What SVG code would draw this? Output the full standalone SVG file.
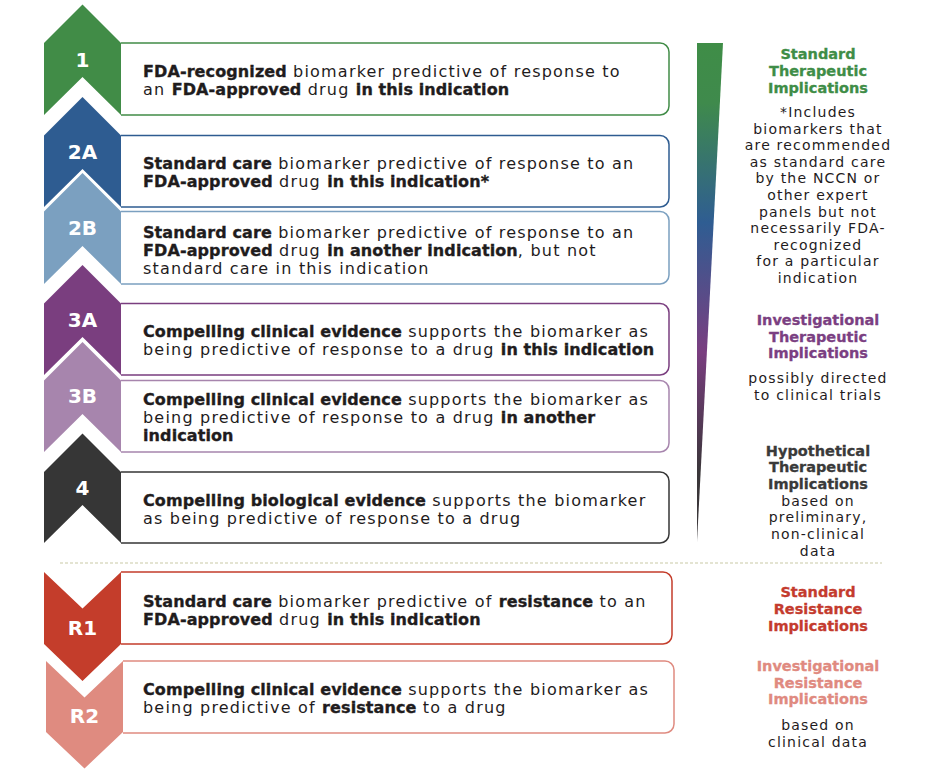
<svg xmlns="http://www.w3.org/2000/svg" width="952" height="783" viewBox="0 0 952 783">
  <defs>
    <linearGradient id="taper" x1="0" y1="43" x2="0" y2="542" gradientUnits="userSpaceOnUse">
      <stop offset="0" stop-color="#3f8d47"/>
      <stop offset="0.12" stop-color="#3f8a4c"/>
      <stop offset="0.36" stop-color="#2f5d92"/>
      <stop offset="0.62" stop-color="#7a3e80"/>
      <stop offset="0.86" stop-color="#3a3639"/>
      <stop offset="1" stop-color="#3a3639"/>
    </linearGradient>
  </defs>
  <style>
    .box { fill: #ffffff; stroke-width: 1.5; }
    .txt { font-family: "DejaVu Sans", "Liberation Sans", sans-serif; font-size: 16px; fill: #1f1c1d; }
    .r { letter-spacing: 1.2px; }
    .b { font-weight: bold; letter-spacing: 0.1px; stroke: #1f1c1d; stroke-width: 0.35px; }
    .num { font-family: "DejaVu Sans", "Liberation Sans", sans-serif; font-size: 20px; font-weight: bold; fill: #ffffff; text-anchor: middle; }
    .hd { font-family: "DejaVu Sans", "Liberation Sans", sans-serif; font-size: 14.5px; font-weight: bold; text-anchor: middle; stroke-width: 0.3px; }
    .note { font-family: "DejaVu Sans", "Liberation Sans", sans-serif; font-size: 14px; letter-spacing: 1.2px; fill: #1f1c1d; text-anchor: middle; }
    .green { fill: #3f8d47; stroke: #3f8d47; }
    .violet { fill: #7b3f82; stroke: #7b3f82; }
    .charcoal { fill: #3a3a3a; stroke: #3a3a3a; }
    .red { fill: #c43b2e; stroke: #c43b2e; }
    .salmon { fill: #e08a80; stroke: #e08a80; }
  </style>

  <rect width="952" height="783" fill="#ffffff"/>

  <!-- level 1 -->
  <g id="level-1">
    <path class="box" stroke="#418c47" d="M121,43 H660 A9,9 0 0 1 669,52 V106 A9,9 0 0 1 660,115 H121"/>
    <path fill="#418c47" d="M44,43 L82.5,4.5 L121,43 L121,115 L82.5,77 L44,115 Z"/>
    <text class="num" x="82.5" y="67">1</text>
    <text class="txt" x="143" y="77"><tspan class="b">FDA-recognized</tspan><tspan class="r"> biomarker predictive of response to</tspan></text>
    <text class="txt" x="143" y="95"><tspan class="r">an </tspan><tspan class="b">FDA-approved</tspan><tspan class="r"> drug </tspan><tspan class="b">in this indication</tspan></text>
  </g>

  <!-- level 2A -->
  <g id="level-2A">
    <path class="box" stroke="#2e5c91" d="M121,135.5 H660 A9,9 0 0 1 669,144.5 V198 A9,9 0 0 1 660,207 H121"/>
    <path fill="#2e5c91" d="M44,135.5 L82.5,97 L121,135.5 L121,207 L82.5,169 L44,207 Z"/>
    <text class="num" x="82.5" y="159">2A</text>
    <text class="txt" x="143" y="169"><tspan class="b">Standard care</tspan><tspan class="r"> biomarker predictive of response to an</tspan></text>
    <text class="txt" x="143" y="187"><tspan class="b">FDA-approved</tspan><tspan class="r"> drug </tspan><tspan class="b">in this indication*</tspan></text>
  </g>

  <!-- level 2B -->
  <g id="level-2B">
    <path class="box" stroke="#7ba0c0" d="M121,211.5 H660 A9,9 0 0 1 669,220.5 V275 A9,9 0 0 1 660,284 H121"/>
    <path fill="#7ba0c0" d="M44,211.5 L82.5,173 L121,211.5 L121,284 L82.5,246 L44,284 Z"/>
    <text class="num" x="82.5" y="235">2B</text>
    <text class="txt" x="143" y="238"><tspan class="b">Standard care</tspan><tspan class="r"> biomarker predictive of response to an</tspan></text>
    <text class="txt" x="143" y="256"><tspan class="b">FDA-approved</tspan><tspan class="r"> drug </tspan><tspan class="b">in another indication</tspan><tspan class="r">, but not</tspan></text>
    <text class="txt" x="143" y="274"><tspan class="r">standard care in this indication</tspan></text>
  </g>

  <!-- level 3A -->
  <g id="level-3A">
    <path class="box" stroke="#7a3e7f" d="M121,303.5 H660 A9,9 0 0 1 669,312.5 V366 A9,9 0 0 1 660,375 H121"/>
    <path fill="#7a3e7f" d="M44,303.5 L82.5,265 L121,303.5 L121,375 L82.5,337 L44,375 Z"/>
    <text class="num" x="82.5" y="327">3A</text>
    <text class="txt" x="143" y="337"><tspan class="b">Compelling clinical evidence</tspan><tspan class="r"> supports the biomarker as</tspan></text>
    <text class="txt" x="143" y="355"><tspan class="r">being predictive of response to a drug </tspan><tspan class="b">in this indication</tspan></text>
  </g>

  <!-- level 3B -->
  <g id="level-3B">
    <path class="box" stroke="#a785ad" d="M121,380.5 H660 A9,9 0 0 1 669,389.5 V443 A9,9 0 0 1 660,452 H121"/>
    <path fill="#a785ad" d="M44,380.5 L82.5,342 L121,380.5 L121,452 L82.5,414 L44,452 Z"/>
    <text class="num" x="82.5" y="403">3B</text>
    <text class="txt" x="143" y="405"><tspan class="b">Compelling clinical evidence</tspan><tspan class="r"> supports the biomarker as</tspan></text>
    <text class="txt" x="143" y="423"><tspan class="r">being predictive of response to a drug </tspan><tspan class="b">in another</tspan></text>
    <text class="txt" x="143" y="441"><tspan class="b">indication</tspan></text>
  </g>

  <!-- level 4 -->
  <g id="level-4">
    <path class="box" stroke="#363636" d="M121,472 H660 A9,9 0 0 1 669,481 V534 A9,9 0 0 1 660,543 H121"/>
    <path fill="#363636" d="M44,472 L82.5,433.5 L121,472 L121,543 L82.5,505 L44,543 Z"/>
    <text class="num" x="82.5" y="495">4</text>
    <text class="txt" x="143" y="506"><tspan class="b">Compelling biological evidence</tspan><tspan class="r"> supports the biomarker</tspan></text>
    <text class="txt" x="143" y="524"><tspan class="r">as being predictive of response to a drug</tspan></text>
  </g>

  <!-- separator between therapeutic and resistance levels -->
  <line x1="60" y1="563" x2="882" y2="563" stroke="#c9c9a6" stroke-width="1.2" stroke-dasharray="3 2"/>

  <!-- level R1 -->
  <g id="level-R1">
    <path class="box" stroke="#c43d2b" d="M121,572 H663 A9,9 0 0 1 672,581 V635 A9,9 0 0 1 663,644 H121"/>
    <path fill="#c43d2b" d="M44,572 L82.5,608.5 L121,572 L121,644 L82.5,681 L44,644 Z"/>
    <text class="num" x="82.5" y="635">R1</text>
    <text class="txt" x="143" y="607"><tspan class="b">Standard care</tspan><tspan class="r"> biomarker predictive of </tspan><tspan class="b">resistance</tspan><tspan class="r"> to an</tspan></text>
    <text class="txt" x="143" y="625"><tspan class="b">FDA-approved</tspan><tspan class="r"> drug </tspan><tspan class="b">in this indication</tspan></text>
  </g>

  <!-- level R2 -->
  <g id="level-R2">
    <path class="box" stroke="#df8b80" d="M123,661 H665 A9,9 0 0 1 674,670 V724 A9,9 0 0 1 665,733 H123"/>
    <path fill="#df8b80" d="M46,661 L84.5,697.5 L123,661 L123,732 L84.5,768.5 L46,732 Z"/>
    <text class="num" x="84.5" y="723">R2</text>
    <text class="txt" x="143" y="695"><tspan class="b">Compelling clinical evidence</tspan><tspan class="r"> supports the biomarker as</tspan></text>
    <text class="txt" x="143" y="713"><tspan class="r">being predictive of </tspan><tspan class="b">resistance</tspan><tspan class="r"> to a drug</tspan></text>
  </g>

  <!-- tapering evidence bar -->
  <path id="evidence-bar" fill="url(#taper)" d="M697,43 L723,43 L697,542 Z"/>

  <!-- implication legend -->
  <g id="legend-standard-therapeutic">
    <text class="hd green" x="818" y="59">Standard</text>
    <text class="hd green" x="818" y="76">Therapeutic</text>
    <text class="hd green" x="818" y="93">Implications</text>
    <text class="note" x="818" y="117">*Includes</text>
    <text class="note" x="818" y="133.6">biomarkers that</text>
    <text class="note" x="818" y="150.2">are recommended</text>
    <text class="note" x="818" y="166.8">as standard care</text>
    <text class="note" x="818" y="183.4">by the NCCN or</text>
    <text class="note" x="818" y="200">other expert</text>
    <text class="note" x="818" y="216.6">panels but not</text>
    <text class="note" x="818" y="233.2">necessarily FDA-</text>
    <text class="note" x="818" y="249.8">recognized</text>
    <text class="note" x="818" y="266.4">for a particular</text>
    <text class="note" x="818" y="283">indication</text>
  </g>
  <g id="legend-investigational-therapeutic">
    <text class="hd violet" x="818" y="325">Investigational</text>
    <text class="hd violet" x="818" y="341.7">Therapeutic</text>
    <text class="hd violet" x="818" y="358.4">Implications</text>
    <text class="note" x="818" y="383">possibly directed</text>
    <text class="note" x="818" y="400">to clinical trials</text>
  </g>
  <g id="legend-hypothetical-therapeutic">
    <text class="hd charcoal" x="818" y="455.5">Hypothetical</text>
    <text class="hd charcoal" x="818" y="472.2">Therapeutic</text>
    <text class="hd charcoal" x="818" y="489">Implications</text>
    <text class="note" x="818" y="505.7">based on</text>
    <text class="note" x="818" y="522.4">preliminary,</text>
    <text class="note" x="818" y="539.1">non-clinical</text>
    <text class="note" x="818" y="555.8">data</text>
  </g>
  <g id="legend-standard-resistance">
    <text class="hd red" x="818" y="597">Standard</text>
    <text class="hd red" x="818" y="613.8">Resistance</text>
    <text class="hd red" x="818" y="630.6">Implications</text>
  </g>
  <g id="legend-investigational-resistance">
    <text class="hd salmon" x="818" y="671">Investigational</text>
    <text class="hd salmon" x="818" y="687.7">Resistance</text>
    <text class="hd salmon" x="818" y="704.4">Implications</text>
    <text class="note" x="818" y="730">based on</text>
    <text class="note" x="818" y="746.5">clinical data</text>
  </g>
</svg>
